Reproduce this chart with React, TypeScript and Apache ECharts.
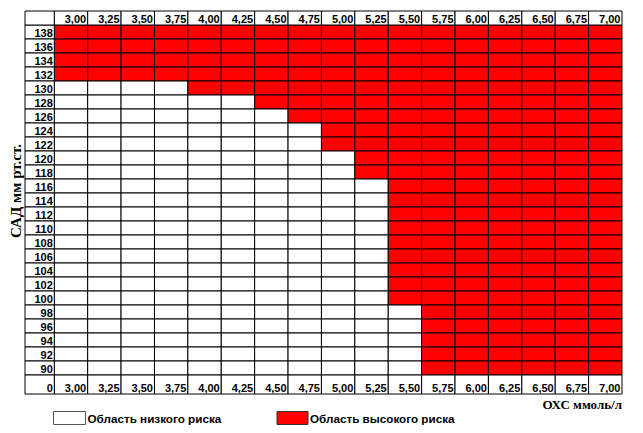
import React, { useEffect, useRef } from "react";
import * as echarts from "echarts";

// Cholesterol (ОХС, ммоль/л) columns and their tick labels
const cholesterol = [3.0, 3.25, 3.5, 3.75, 4.0, 4.25, 4.5, 4.75, 5.0, 5.25, 5.5, 5.75, 6.0, 6.25, 6.5, 6.75, 7.0];
const colLabels = ["3,00", "3,25", "3,50", "3,75", "4,00", "4,25", "4,50", "4,75", "5,00", "5,25", "5,50", "5,75", "6,00", "6,25", "6,50", "6,75", "7,00"];
// Systolic pressure rows (САД, мм рт.ст.), top to bottom
const sbpRows = [138, 136, 134, 132, 130, 128, 126, 124, 122, 120, 118, 116, 114, 112, 110, 108, 106, 104, 102, 100, 98, 96, 94, 92, 90];
// Lowest САД of the high-risk area for each cholesterol column
const highRiskFrom = [132, 132, 132, 132, 130, 130, 128, 126, 122, 118, 100, 90, 90, 90, 90, 90, 90];
const cornerLabel = "0";
const legendNames = ["Область низкого риска", "Область высокого риска"];
const xTitle = "ОХС ммоль/л";
const yTitle = "САД мм рт.ст.";

const RED = "#ff0000";
const CELL_FONT = 'bold 11px "Liberation Sans", Arial, sans-serif';
const LEGEND_FONT = 'bold 11.7px "Liberation Sans", Arial, sans-serif';
const LABEL_COL = 0.877; // label column width in column units
const FOOT_ROW = 1.357; // bottom row height in row units

export default function App() {
  const ref = useRef<HTMLDivElement>(null);

  useEffect(() => {
    if (!ref.current) return;
    const chart = echarts.init(ref.current, null, { renderer: "svg" });
    const nRows = sbpRows.length;

    const cellData: number[][] = [];
    cholesterol.forEach((_, c) => {
      sbpRows.forEach((sbp, i) => {
        cellData.push([c, nRows - 1 - i, sbp >= highRiskFrom[c] ? 1 : 0]);
      });
    });
    const headData = colLabels.map((_, c) => [c, 0]);
    const footData = colLabels.map((_, c) => [c, 0]);
    const rowLabelData = sbpRows.map((_, i) => [0, nRows - 1 - i]);

    const rectOf = (api: any, x0: number, y0: number, x1: number, y1: number) => {
      const a = api.coord([x0, y1]);
      const b = api.coord([x1, y0]);
      return { x: a[0], y: a[1], width: b[0] - a[0], height: b[1] - a[1] };
    };
    const cellStyle = (fill: string) => ({ fill, stroke: "#000", lineWidth: 1 });

    const option: any = {
      animation: false,
      grid: { left: 25, right: 21, top: 11, bottom: 39, containLabel: false },
      xAxis: { type: "value", min: -LABEL_COL, max: cholesterol.length, show: false },
      yAxis: { type: "value", min: -FOOT_ROW, max: nRows + 1, show: false },
      series: [
        {
          type: "custom",
          name: "cells",
          clip: false,
          data: cellData,
          renderItem: (params: any, api: any) => {
            const x = api.value(0);
            const y = api.value(1);
            const v = api.value(2);
            return {
              type: "rect",
              shape: rectOf(api, x, y, x + 1, y + 1),
              style: cellStyle(v ? RED : "#fff"),
            };
          },
        },
        {
          type: "custom",
          name: "header",
          clip: false,
          data: headData,
          renderItem: (params: any, api: any) => {
            const c = api.value(0);
            const r = rectOf(api, c, nRows, c + 1, nRows + 1);
            return {
              type: "group",
              children: [
                { type: "rect", shape: r, style: cellStyle("#fff") },
                {
                  type: "text",
                  style: {
                    text: colLabels[params.dataIndex],
                    x: r.x + r.width - 1.5,
                    y: r.y + r.height / 2 + 0.5,
                    align: "right",
                    verticalAlign: "middle",
                    font: CELL_FONT,
                    fill: "#000",
                  },
                },
              ],
            };
          },
        },
        {
          type: "custom",
          name: "footer",
          clip: false,
          data: footData,
          renderItem: (params: any, api: any) => {
            const c = api.value(0);
            const r = rectOf(api, c, -FOOT_ROW, c + 1, 0);
            return {
              type: "group",
              children: [
                { type: "rect", shape: r, style: cellStyle("#fff") },
                {
                  type: "text",
                  style: {
                    text: colLabels[params.dataIndex],
                    x: r.x + r.width - 1.5,
                    y: r.y + r.height - 0.5,
                    align: "right",
                    verticalAlign: "bottom",
                    font: CELL_FONT,
                    fill: "#000",
                  },
                },
              ],
            };
          },
        },
        {
          type: "custom",
          name: "rowLabels",
          clip: false,
          data: rowLabelData,
          renderItem: (params: any, api: any) => {
            const y = api.value(1);
            const r = rectOf(api, -LABEL_COL, y, 0, y + 1);
            return {
              type: "group",
              children: [
                { type: "rect", shape: r, style: cellStyle("#fff") },
                {
                  type: "text",
                  style: {
                    text: String(sbpRows[params.dataIndex]),
                    x: r.x + r.width - 1.5,
                    y: r.y + r.height / 2 + 0.5,
                    align: "right",
                    verticalAlign: "middle",
                    font: CELL_FONT,
                    fill: "#000",
                  },
                },
              ],
            };
          },
        },
        {
          type: "custom",
          name: "corners",
          clip: false,
          data: [[0, 0]],
          renderItem: (params: any, api: any) => {
            const top = rectOf(api, -LABEL_COL, nRows, 0, nRows + 1);
            const bot = rectOf(api, -LABEL_COL, -FOOT_ROW, 0, 0);
            return {
              type: "group",
              children: [
                { type: "rect", shape: top, style: cellStyle("#fff") },
                { type: "rect", shape: bot, style: cellStyle("#fff") },
                {
                  type: "text",
                  style: {
                    text: cornerLabel,
                    x: bot.x + bot.width - 1.5,
                    y: bot.y + bot.height - 0.5,
                    align: "right",
                    verticalAlign: "bottom",
                    font: CELL_FONT,
                    fill: "#000",
                  },
                },
              ],
            };
          },
        },
      ],
      graphic: [
        {
          type: "text",
          x: 16,
          y: 191,
          rotation: Math.PI / 2,
          style: {
            text: yTitle,
            align: "center",
            verticalAlign: "middle",
            font: 'bold 15px "Liberation Serif", "Times New Roman", serif',
            fill: "#000",
          },
        },
        {
          type: "text",
          x: 622,
          y: 404,
          style: {
            text: xTitle,
            align: "right",
            verticalAlign: "middle",
            font: 'bold 13px "Liberation Serif", "Times New Roman", serif',
            fill: "#000",
          },
        },
        {
          type: "rect",
          shape: { x: 53.5, y: 411.5, width: 32, height: 13 },
          style: { fill: "#fff", stroke: "#555", lineWidth: 1 },
        },
        {
          type: "text",
          x: 87.5,
          y: 418.5,
          style: {
            text: legendNames[0],
            align: "left",
            verticalAlign: "middle",
            font: LEGEND_FONT,
            fill: "#000",
          },
        },
        {
          type: "rect",
          shape: { x: 277, y: 411.5, width: 31, height: 13 },
          style: { fill: RED, stroke: "#333", lineWidth: 1 },
        },
        {
          type: "text",
          x: 310,
          y: 418.5,
          style: {
            text: legendNames[1],
            align: "left",
            verticalAlign: "middle",
            font: LEGEND_FONT,
            fill: "#000",
          },
        },
      ],
    };

    chart.setOption(option);
    return () => chart.dispose();
  }, []);

  return (
    <div
      ref={ref}
      style={{ position: "fixed", left: 0, top: 0, width: 643, height: 433, background: "#fff" }}
    />
  );
}
